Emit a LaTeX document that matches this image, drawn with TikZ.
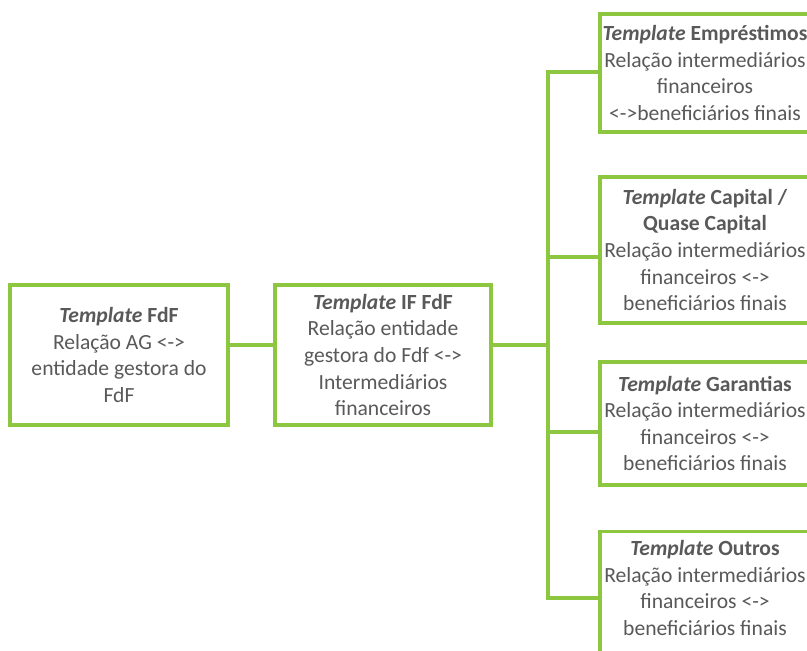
\documentclass[tikz,border=0pt]{standalone}
\usepackage{fontspec}
\setmainfont{Carlito}
\definecolor{grn}{RGB}{141,198,63}
\definecolor{txtc}{RGB}{89,89,89}
\tikzset{
  box/.style={draw=grn, line width=2.3pt, fill=white, inner sep=0pt, align=center, text=txtc,
    font=\fontsize{16.2pt}{19.9pt}\selectfont},
  txt/.style={inner sep=0pt, align=center, text=txtc, font=\fontsize{16.2pt}{19.9pt}\selectfont},
  link/.style={draw=grn, line width=2.3pt}
}
\begin{document}
\begin{tikzpicture}[x=0.75pt,y=-0.75pt]
\useasboundingbox (0,0) rectangle (807,650);
\clip (0,0) rectangle (807,650);
\node[box, minimum width=218*0.75pt, minimum height=140*0.75pt] (a) at (119,355)
  {\textbf{\textit{Template}} \textbf{FdF}\\Relação AG <->\\entidade gestora do\\FdF};
\node[box, minimum width=216*0.75pt, minimum height=140*0.75pt] (b) at (383,355)
  {\textbf{\textit{Template}} \textbf{IF FdF}\\Relação entidade\\gestora do Fdf <->\\Intermediários\\financeiros};
\node[box, minimum width=210*0.75pt, minimum height=118*0.75pt] (e1) at (705,73)
  {\textbf{\textit{Template}} \textbf{Empréstimos}\\Relação intermediários\\financeiros\\<->beneficiários finais};
\node[box, minimum width=210*0.75pt, minimum height=146*0.75pt] (e2) at (705,250)
  {\textbf{\textit{Template}} \textbf{Capital /}\\\textbf{Quase Capital}\\Relação intermediários\\financeiros <->\\beneficiários finais};
\node[box, minimum width=210*0.75pt, minimum height=123*0.75pt] (e3) at (705,423.5)
  {\textbf{\textit{Template}} \textbf{Garantias}\\Relação intermediários\\financeiros <->\\beneficiários finais};
\node[box, minimum width=210*0.75pt, minimum height=140*0.75pt, anchor=north] (e4) at (705,530) {};
\node[txt] (e4t) at (705,588)
  {\textbf{\textit{Template}} \textbf{Outros}\\Relação intermediários\\financeiros <->\\beneficiários finais};
\coordinate (j) at (548,345);
\draw[link] (a.east |- 0,345) -- (b.west |- 0,345);
\draw[link] (b.east |- 0,345) -- (j);
\draw[link] (e1.west |- 0,72) -| (j) |- (e4.west |- 0,598);
\draw[link] (j) |- (e2.west |- 0,257);
\draw[link] (j) |- (e3.west |- 0,432);
\end{tikzpicture}
\end{document}
